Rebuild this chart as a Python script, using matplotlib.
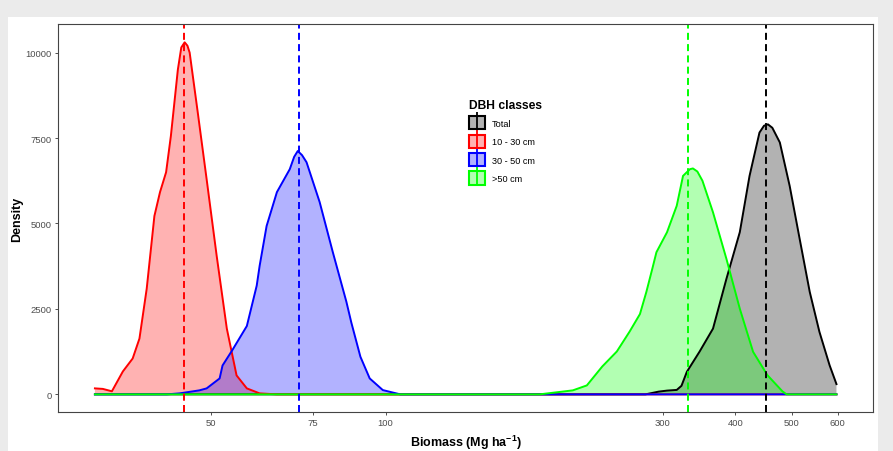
import matplotlib
matplotlib.use("Agg")
import matplotlib.pyplot as plt
from matplotlib.patches import Patch, Rectangle
from matplotlib.lines import Line2D
from matplotlib.legend_handler import HandlerTuple
from matplotlib.ticker import NullLocator, FixedLocator, FixedFormatter

plt.rcParams['font.family'] = ['Liberation Sans', 'DejaVu Sans']
plt.rcParams['mathtext.fontset'] = 'custom'
plt.rcParams['mathtext.rm'] = 'Liberation Sans'
plt.rcParams['mathtext.bf'] = 'Liberation Sans:bold'

# ---------------- data ----------------
classes = ["Total", "10 - 30 cm", "30 - 50 cm", ">50 cm"]
colors = ["#000000", "#FF0000", "#0000FF", "#00FF00"]

x_total = [31.6, 280, 295, 305, 317, 323, 330, 347, 366, 386, 407, 423, 440, 448, 455, 463, 477, 496, 516, 537, 558, 581, 597]
y_total = [0, 0, 80, 110, 130, 250, 661, 1250, 1924, 3381, 4745, 6390, 7660, 7860, 7900, 7800, 7370, 6095, 4547, 2998, 1830, 850, 300]

x_small = [31.6, 32.6, 33.8, 35.3, 36.7, 37.7, 38.8, 40.0, 40.9, 41.9, 42.7, 43.9, 44.5, 45.1, 45.6, 46.0, 47.5, 49.2, 51.2, 53.3, 55.4, 57.7, 60.7, 65.0, 597]
y_small = [175, 160, 90, 670, 1049, 1632, 3090, 5218, 5917, 6500, 7560, 9503, 10150, 10300, 10200, 9998, 8249, 6296, 4052, 1924, 554, 175, 29, 0, 0]

x_mid = [31.6, 42.0, 44.2, 47.8, 49.2, 51.8, 52.4, 54.5, 57.7, 60.0, 60.7, 62.4, 65.0, 68.4, 69.6, 70.6, 71.8, 73.1, 77.0, 81.1, 85.6, 87.3, 90.5, 93.9, 98.9, 106, 597]
y_mid = [0, 0, 29, 117, 175, 466, 845, 1300, 2000, 3180, 3760, 4926, 5917, 6588, 6950, 7120, 7000, 6792, 5626, 4168, 2711, 2100, 1100, 466, 125, 0, 0]

x_large = [31.6, 184, 210, 222, 236, 250, 263, 274, 281, 288, 292.5, 305, 317, 325, 334, 338, 344, 351, 366, 386, 407, 429, 454, 482, 490, 597]
y_large = [0, 0, 117, 262, 816, 1254, 1837, 2350, 2993, 3700, 4159, 4742, 5518, 6392, 6588, 6610, 6520, 6250, 5326, 3964, 2507, 1245, 563, 87, 0, 0]

xs = [x_total, x_small, x_mid, x_large]
ys = [y_total, y_small, y_mid, y_large]
means = [451, 45.0, 70.9, 332]

xticks = [50, 75, 100, 300, 400, 500, 600]
xticklabels = ["50", "75", "100", "300", "400", "500", "600"]
yticks = [0, 2500, 5000, 7500, 10000]
yticklabels = ["0", "2500", "5000", "7500", "10000"]

# ---------------- figure ----------------
W, H = 893, 452
fig = plt.figure(figsize=(W / 100, H / 100), dpi=100, facecolor="#EBEBEB")
fig.add_artist(Rectangle((8 / W, 0), (878 - 8) / W, (H - 18) / H,
                         transform=fig.transFigure, facecolor="white",
                         edgecolor="none", zorder=-5))

ax = fig.add_axes([58 / W, (H - 413) / H, (873 - 58) / W, (413 - 25) / H])
ax.set_facecolor("white")
ax.set_xscale("log")

for x, y, c in zip(xs, ys, colors):
    ax.fill_between(x, y, 0, facecolor=c, alpha=0.3, linewidth=0)
    ax.plot(x, y, color=c, linewidth=1.4, solid_joinstyle="round")

for m, c in zip(means, colors):
    ax.axvline(m, color=c, linewidth=1.4, linestyle=(0, (3.6, 2.2)))

ax.set_xlim(27.3, 690)
ax.set_ylim(-516, 10836)

ax.xaxis.set_major_locator(FixedLocator(xticks))
ax.xaxis.set_major_formatter(FixedFormatter(xticklabels))
ax.xaxis.set_minor_locator(NullLocator())
ax.set_yticks(yticks)
ax.set_yticklabels(yticklabels)

ax.tick_params(axis="both", which="major", length=2.5, width=0.6,
               color="#333333", labelsize=6.8, labelcolor="#4D4D4D", pad=2)
for s in ax.spines.values():
    s.set_color("#444444")
    s.set_linewidth(0.8)

ax.set_xlabel(r"Biomass (Mg ha$^{\mathbf{-1}}$)", fontsize=9, fontweight="bold", labelpad=4)
ax.set_ylabel("Density", fontsize=9, fontweight="bold", labelpad=1.5)

handles = []
for c in colors:
    p = Patch(facecolor=matplotlib.colors.to_rgba(c, 0.3), edgecolor=c, linewidth=1.5)
    l = Line2D([], [], color=c, marker="|", linestyle="None", markersize=13, markeredgewidth=1.3)
    handles.append((p, l))

leg = ax.legend(handles, classes, handler_map={tuple: HandlerTuple(ndivide=1, pad=0)},
                loc="upper left", bbox_to_anchor=(469 / W, 1 - 100 / H),
                bbox_transform=fig.transFigure, frameon=False,
                fontsize=6.6, title="DBH classes",
                title_fontproperties={"weight": "bold", "size": 8.7},
                handlelength=1.75, handleheight=1.85, labelspacing=0.56,
                handletextpad=0.75, borderpad=0, borderaxespad=0)
leg._legend_box.align = "left"

fig.savefig("out.png", dpi=100, facecolor=fig.get_facecolor())
